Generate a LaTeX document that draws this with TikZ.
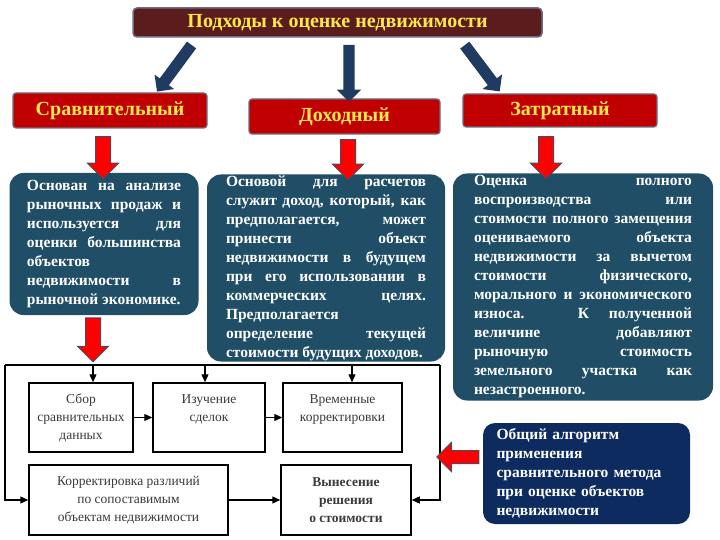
\documentclass[tikz,border=0pt]{standalone}
\usepackage{fontspec}
\setmainfont{Liberation Serif}
\usepackage{xcolor}
\usetikzlibrary{positioning, shapes.arrows, arrows.meta, calc}

\definecolor{titlebg}{HTML}{5A1C1C}
\definecolor{frameg}{HTML}{6E6E80}
\definecolor{boxred}{HTML}{C00000}
\definecolor{labelyel}{HTML}{FFE84A}
\definecolor{tealbg}{HTML}{1F4E66}
\definecolor{navybg}{HTML}{0D2B5E}
\definecolor{arrblue}{HTML}{1F3B62}
\definecolor{arrred}{HTML}{FF0000}
\definecolor{arrrim}{HTML}{4B4B5E}
\definecolor{flowtxt}{HTML}{3A3A3A}

% justified text with forced breaks
\newcommand{\infofont}{\bfseries\fontsize{15.5}{19}\selectfont\tolerance=10000\hyphenpenalty=10000\hbadness=10000}

\tikzset{
  headbox/.style={rectangle, rounded corners=3pt, fill=boxred, draw=frameg, line width=1.2pt,
    text=labelyel, font=\bfseries\fontsize{20}{22}\selectfont, inner sep=0pt},
  infobox/.style={rectangle, rounded corners=14pt, fill=tealbg, text=white,
    font=\infofont, align=justify, inner sep=0pt},
  redarr/.style={single arrow, fill=arrred, draw=arrrim, line width=1pt,
    single arrow head extend=8pt, single arrow head indent=0pt, inner sep=7pt},
  bluearr/.style={single arrow, fill=arrblue,
    single arrow head extend=6.5pt, inner sep=5.5pt},
  flowbox/.style={rectangle, draw=black, line width=1.5pt, fill=white, text=flowtxt,
    font=\fontsize{13.5}{18}\selectfont, align=center, inner sep=0pt},
  flowline/.style={line width=1.3pt},
  flowarr/.style={line width=1.3pt, -{Triangle[length=8pt,width=7pt]}}
}

\begin{document}
\begin{tikzpicture}[x=1pt, y=-1pt]
    \useasboundingbox (0,0) rectangle (720,540);

    % title and the three approaches
    \node[rectangle, rounded corners=4pt, fill=titlebg, draw=frameg, line width=1.5pt,
      minimum width=409pt, minimum height=29pt, text=labelyel,
      font=\bfseries\fontsize{20}{22}\selectfont] (approaches) at (337.5,22.5) {Подходы к оценке недвижимости};
    \node[headbox, minimum width=194pt, minimum height=35pt] (comp) at (110,110.5) {Сравнительный};
    \node[headbox, minimum width=191pt, minimum height=35pt] (income) at (344.5,116.5) {Доходный};
    \node[headbox, minimum width=194pt, minimum height=33pt] (cost) at (560,110.5) {Затратный};

    \node[bluearr, rotate=233.5, minimum height=58pt] (toComp) at (176,66) {};
    \node[bluearr, rotate=270, minimum height=57pt] (toIncome) at (349,70.5) {};
    \node[bluearr, rotate=307, minimum height=58pt] (toCost) at (480.5,66) {};

    % descriptions
    \node[infobox, minimum width=189pt, minimum height=142pt, text width=154pt] (compinfo) at (104,244) {%
      Основан на анализе\linebreak
      рыночных продаж и\linebreak
      используется для\linebreak
      оценки большинства\linebreak
      объектов\newline
      недвижимости в\linebreak
      рыночной экономике.};
    \node[infobox, minimum width=238pt, minimum height=187pt, text width=200pt] (incomeinfo) at (326,268) {%
      Основой для расчетов\linebreak
      служит доход, который, как\linebreak
      предполагается, может\linebreak
      принести объект\linebreak
      недвижимости в будущем\linebreak
      при его использовании в\linebreak
      коммерческих целях.\linebreak
      Предполагается\newline
      определение текущей\linebreak
      стоимости будущих доходов.};
    \node[infobox, minimum width=260pt, minimum height=227pt, text width=218pt] (costinfo) at (583,287) {%
      Оценка полного\linebreak
      воспроизводства или\linebreak
      стоимости полного замещения\linebreak
      оцениваемого объекта\linebreak
      недвижимости за вычетом\linebreak
      стоимости физического,\linebreak
      морального и экономического\linebreak
      износа. К полученной\linebreak
      величине добавляют\linebreak
      рыночную стоимость\linebreak
      земельного участка как\linebreak
      незастроенного.};

    \node[redarr, rotate=270, minimum height=42pt] (downComp) at (103,154) {};
    \node[redarr, rotate=270, minimum height=40pt] (downIncome) at (348,156) {};
    \node[redarr, rotate=270, minimum height=42pt] (downCost) at (546,154) {};
    \node[redarr, rotate=270, minimum height=44pt] (downFlow) at (93,336) {};

    % algorithm of the comparative method
    \node[flowbox, minimum width=104pt, minimum height=69pt] (collect) at (81,417.5) {Сбор\\сравнительных\\данных};
    \node[flowbox, minimum width=112pt, minimum height=69pt] (study) at (209,417.5) {Изучение\\сделок\\\mbox{}};
    \node[flowbox, minimum width=119pt, minimum height=69pt] (timeadj) at (342.5,417.5) {Временные\\корректировки\\\mbox{}};
    \node[flowbox, minimum width=199pt, minimum height=70pt] (diffadj) at (128.5,500) {Корректировка различий\\по сопоставимым\\объектам недвижимости};
    \node[flowbox, minimum width=130pt, minimum height=70pt, font=\bfseries\fontsize{13.5}{18}\selectfont] (decision) at (346,500) {Вынесение\\решения\\о стоимости};

    \coordinate (frameL) at (5,365);
    \coordinate (frameR) at (440,365);
    \coordinate (inCollect) at ([xshift=12pt]collect.north);
    \coordinate (inStudy) at ([xshift=-4pt]study.north);
    \coordinate (inTime) at ([xshift=9.5pt]timeadj.north);
    \draw[flowline] (frameL) -- (frameR);
    \draw[flowarr] (frameL) |- (diffadj.west);
    \draw[flowarr] (frameR) |- (decision.east);
    \draw[flowarr] (inCollect |- frameL) -- (inCollect);
    \draw[flowarr] (inStudy |- frameL) -- (inStudy);
    \draw[flowarr] (inTime |- frameL) -- (inTime);
    \draw[flowarr] (collect) -- (study);
    \draw[flowarr] (study) -- (timeadj);
    \draw[flowarr] (diffadj) -- (decision);

    \node[infobox, fill=navybg, rounded corners=12pt, minimum width=207pt, minimum height=101pt, text width=180pt, align=left] (algo) at (586.5,473.5) {%
      Общий алгоритм\\
      применения\\
      сравнительного метода\\
      при оценке объектов\\
      недвижимости};
    \node[redarr, rotate=180, minimum height=42pt, inner sep=6pt] (toAlgo) at (461,457) {};
\end{tikzpicture}
\end{document}
